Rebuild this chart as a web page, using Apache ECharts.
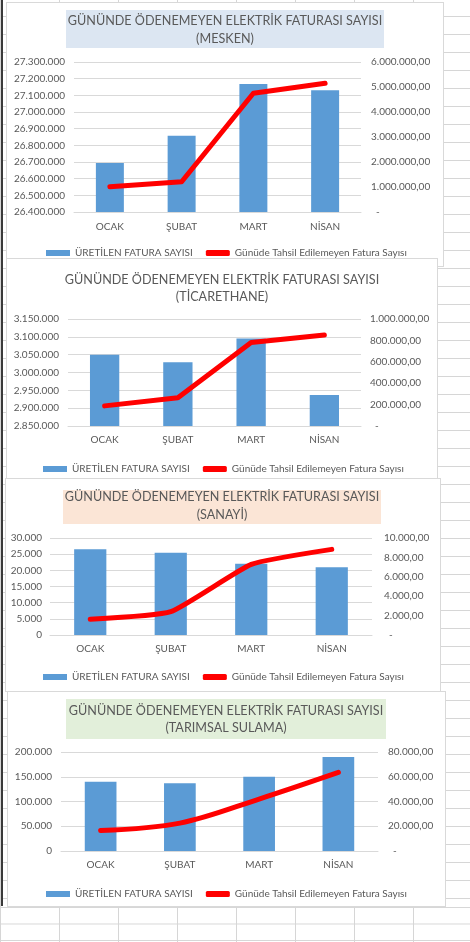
<!DOCTYPE html>
<html>
<head>
<meta charset="utf-8">
<title>Günde ödenemeyen elektrik faturası sayısı</title>
<script src="https://cdn.jsdelivr.net/npm/echarts@6/dist/echarts.min.js"></script>
<style>
  html, body {
    margin: 0;
    padding: 0;
  }
  body {
    width: 470px;
    height: 942px;
    position: relative;
    overflow: hidden;
    background-color: #fff;
    background-image:
      linear-gradient(#d6d6d6 1px, transparent 1px),
      linear-gradient(90deg, #d6d6d6 1px, transparent 1px);
    background-size: 59px 18px;
    background-position: 0 -2px;
  }
  .bottom-rows {
    position: absolute;
    left: 0;
    top: 907px;
    width: 470px;
    height: 35px;
    background-color: #fff;
    background-image:
      linear-gradient(#d6d6d6 1px, transparent 1px),
      linear-gradient(90deg, #d6d6d6 1px, transparent 1px);
    background-size: 59px 16.5px;
  }
  .edge {
    position: absolute;
    left: 1px;
    top: 0;
    width: 2px;
    height: 906px;
    background: #3a3a3a;
  }
  .panel {
    position: absolute;
    background: #fff;
    border: 1px solid #d9d9d9;
    box-sizing: border-box;
  }
</style>
</head>
<body>
<div class="bottom-rows"></div>
<div class="edge"></div>
<div id="p1" class="panel" style="left:6px;top:2px;width:438px;height:265px;z-index:1"></div>
<div id="p2" class="panel" style="left:6px;top:258px;width:432px;height:230px;z-index:2"></div>
<div id="p3" class="panel" style="left:5px;top:478px;width:436px;height:214px;z-index:3"></div>
<div id="p4" class="panel" style="left:7px;top:691px;width:439px;height:216px;z-index:4"></div>
<script>
// ortak veriler
const months = ['OCAK', 'ŞUBAT', 'MART', 'NİSAN']
const barName = 'ÜRETİLEN FATURA SAYISI'
const lineName = 'Günüde Tahsil Edilemeyen Fatura Sayısı'
const titleMain = 'GÜNÜNDE ÖDENEMEYEN ELEKTRİK FATURASI SAYISI'

// MESKEN
const meskenBills = [26694000, 26858000, 27168000, 27130000]
const meskenUnpaid = [1010000, 1210000, 4750000, 5150000]
const meskenLeftAxis = [26400000, 27300000, 100000]
const meskenRightAxis = [0, 6000000, 1000000]

// TİCARETHANE
const ticaretBills = [3050000, 3029000, 3095000, 2937000]
const ticaretUnpaid = [188000, 264000, 781000, 850000]
const ticaretLeftAxis = [2850000, 3150000, 50000]
const ticaretRightAxis = [0, 1000000, 200000]

// SANAYİ
const sanayiBills = [26500, 25400, 22050, 20950]
const sanayiUnpaid = [1620, 2400, 7280, 8830]
const sanayiLeftAxis = [0, 30000, 5000]
const sanayiRightAxis = [0, 10000, 2000]

// TARIMSAL SULAMA
const tarimBills = [140000, 137000, 150000, 190000]
const tarimUnpaid = [16500, 22500, 42000, 63500]
const tarimLeftAxis = [0, 200000, 50000]
const tarimRightAxis = [0, 80000, 20000]

const FONT = 'Lato'
const TEXT = '#595959'
const GRID = '#d9d9d9'

function fmt(v) {
  return String(Math.round(v)).replace(/\B(?=(\d{3})+(?!\d))/g, '.')
}

function buildOption(cfg) {
  const graphic = []
  if (cfg.box) {
    graphic.push({
      type: 'rect',
      z: -10,
      shape: { x: cfg.box[0], y: cfg.box[1], width: cfg.box[2], height: cfg.box[3] },
      style: { fill: cfg.boxColor }
    })
  }
  return {
    animation: false,
    textStyle: { fontFamily: FONT },
    title: {
      text: titleMain + '\n' + cfg.sub,
      left: cfg.titleX,
      top: cfg.titleTop,
      padding: 0,
      textAlign: 'center',
      textStyle: {
        fontFamily: FONT,
        fontSize: 12.6,
        fontWeight: 'normal',
        color: TEXT,
        lineHeight: cfg.titleLine
      }
    },
    graphic: graphic,
    legend: {
      left: cfg.legendLeft,
      top: cfg.legendTop,
      padding: 0,
      itemWidth: 24,
      itemHeight: 6,
      itemGap: 13,
      textStyle: { fontFamily: FONT, fontSize: 10, color: TEXT },
      data: [
        { name: barName, icon: 'rect' },
        { name: lineName, icon: 'roundRect' }
      ]
    },
    grid: cfg.grid,
    xAxis: {
      type: 'category',
      data: months,
      axisTick: { show: false },
      axisLine: { lineStyle: { color: GRID, width: 1 } },
      axisLabel: { color: TEXT, fontSize: 10, fontFamily: FONT, margin: cfg.catMargin }
    },
    yAxis: [
      {
        type: 'value',
        min: cfg.left[0],
        max: cfg.left[1],
        interval: cfg.left[2],
        axisLine: { show: false },
        axisTick: { show: false },
        splitLine: { lineStyle: { color: GRID, width: 1 } },
        axisLabel: {
          color: TEXT,
          fontSize: 10,
          fontFamily: FONT,
          margin: cfg.leftMargin,
          formatter: v => fmt(v)
        }
      },
      {
        type: 'value',
        min: cfg.right[0],
        max: cfg.right[1],
        interval: cfg.right[2],
        axisLine: { show: false },
        axisTick: { show: false },
        splitLine: { show: false },
        axisLabel: {
          color: TEXT,
          fontSize: 10,
          fontFamily: FONT,
          margin: cfg.rightMargin,
          formatter: v => (v === 0 ? '  -' : fmt(v) + ',00')
        }
      }
    ],
    series: [
      {
        name: barName,
        type: 'bar',
        data: cfg.bars,
        barWidth: cfg.barWidth,
        itemStyle: { color: '#5b9bd5' }
      },
      {
        name: lineName,
        type: 'line',
        yAxisIndex: 1,
        data: cfg.line,
        symbol: 'none',
        smooth: cfg.smooth,
        lineStyle: { color: '#ff0000', width: 5, cap: 'round', join: 'round' },
        itemStyle: { color: '#ff0000' }
      }
    ]
  }
}

const charts = [
  {
    el: 'p1',
    sub: '(MESKEN)',
    box: [59, 7, 318, 38],
    boxColor: '#dce6f2',
    titleX: 218,
    titleTop: 9,
    titleLine: 18,
    grid: { left: 67, right: 82, top: 59, bottom: 54 },
    catMargin: 10,
    leftMargin: 9,
    rightMargin: 10,
    legendLeft: 39,
    legendTop: 245,
    barWidth: '39%',
    left: meskenLeftAxis,
    right: meskenRightAxis,
    bars: meskenBills,
    line: meskenUnpaid,
    smooth: false
  },
  {
    el: 'p2',
    sub: '(TİCARETHANE)',
    box: null,
    titleX: 215,
    titleTop: 12,
    titleLine: 17,
    grid: { left: 61, right: 76, top: 60, bottom: 61 },
    catMargin: 9,
    leftMargin: 9,
    rightMargin: 9,
    legendLeft: 36,
    legendTop: 205,
    barWidth: '40%',
    left: ticaretLeftAxis,
    right: ticaretRightAxis,
    bars: ticaretBills,
    line: ticaretUnpaid,
    smooth: false
  },
  {
    el: 'p3',
    sub: '(SANAYİ)',
    box: [57, 11, 318, 34],
    boxColor: '#fbe5d6',
    titleX: 216,
    titleTop: 9,
    titleLine: 18,
    grid: { left: 44, right: 68, top: 59, bottom: 56 },
    catMargin: 9,
    leftMargin: 8,
    rightMargin: 12,
    legendLeft: 37,
    legendTop: 193,
    barWidth: '40%',
    left: sanayiLeftAxis,
    right: sanayiRightAxis,
    bars: sanayiBills,
    line: sanayiUnpaid,
    smooth: 0.15
  },
  {
    el: 'p4',
    sub: '(TARIMSAL SULAMA)',
    box: [58, 7, 320, 40],
    boxColor: '#e2efda',
    titleX: 218,
    titleTop: 10,
    titleLine: 17,
    grid: { left: 53, right: 67, top: 60, bottom: 55 },
    catMargin: 9,
    leftMargin: 9,
    rightMargin: 10,
    legendLeft: 38,
    legendTop: 197,
    barWidth: '40%',
    left: tarimLeftAxis,
    right: tarimRightAxis,
    bars: tarimBills,
    line: tarimUnpaid,
    smooth: 0.35
  }
]

charts.forEach(cfg => {
  const chart = echarts.init(document.getElementById(cfg.el), null, { renderer: 'canvas' })
  chart.setOption(buildOption(cfg))
})
</script>
</body>
</html>
